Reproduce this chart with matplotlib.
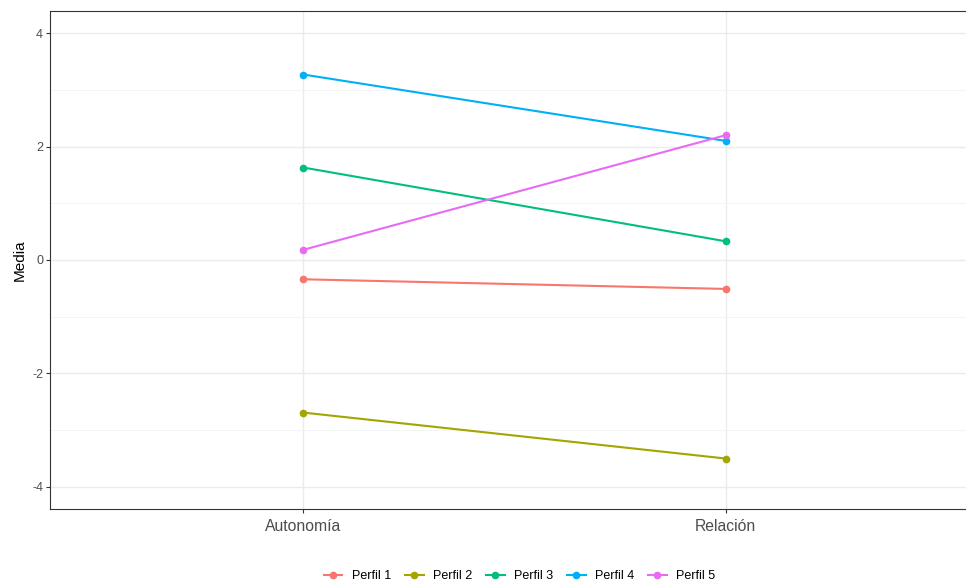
import matplotlib.pyplot as plt
import matplotlib.ticker as mticker

# Data
categories = ["Autonomía", "Relación"]
profiles = ["Perfil 1", "Perfil 2", "Perfil 3", "Perfil 4", "Perfil 5"]
autonomia = [-0.34, -2.69, 1.63, 3.27, 0.18]
relacion = [-0.51, -3.50, 0.33, 2.10, 2.20]
colors = ["#F8766D", "#A3A500", "#00BF7D", "#00B0F6", "#E76BF3"]

plt.rcParams['font.family'] = ['Liberation Sans', 'DejaVu Sans']

W, H = 966, 583
fig = plt.figure(figsize=(W / 100, H / 100), dpi=100)
left, right, top, bottom = 50, 979, 11, 509
ax = fig.add_axes([left / W, 1 - bottom / H, (right - left) / W, (bottom - top) / H])

xs = list(range(len(categories)))
for name, a, r, c in zip(profiles, autonomia, relacion, colors):
    ax.plot(xs, [a, r], color=c, linewidth=1.5, marker='o', markersize=4.5,
            label=name, zorder=3)

ax.set_xlim(-0.6, 1.6)
ax.set_ylim(-4.39, 4.39)
ax.set_xticks(xs)
ax.set_xticklabels(categories)
ax.yaxis.set_major_locator(mticker.MultipleLocator(2))
ax.yaxis.set_minor_locator(mticker.MultipleLocator(1))
ax.yaxis.set_major_formatter(mticker.FuncFormatter(lambda v, p: f"{v:.0f}".replace("-0", "0") if v == 0 else f"{v:.0f}"))

ax.grid(which='major', color='#EBEBEB', linewidth=1.0, zorder=0)
ax.grid(which='minor', axis='y', color='#F3F3F3', linewidth=0.6, zorder=0)
ax.set_axisbelow(True)
ax.tick_params(axis='both', which='major', length=3, width=0.8, color='#333333',
               labelcolor='#4D4D4D')
ax.tick_params(axis='y', labelsize=9, pad=2)
ax.tick_params(axis='x', labelsize=11.3, pad=4)
ax.tick_params(which='minor', length=0)
for s in ax.spines.values():
    s.set_color('#333333')
    s.set_linewidth(0.8)

ax.set_ylabel("Media", fontsize=11, color='black', labelpad=4)

fig.legend(*ax.get_legend_handles_labels(), loc='center',
           bbox_to_anchor=(519.5 / W, 1 - 576 / H),
           ncol=5, frameon=False, fontsize=9, handlelength=1.5, columnspacing=1.1,
           handletextpad=0.75)

fig.savefig("out.png", dpi=100)
